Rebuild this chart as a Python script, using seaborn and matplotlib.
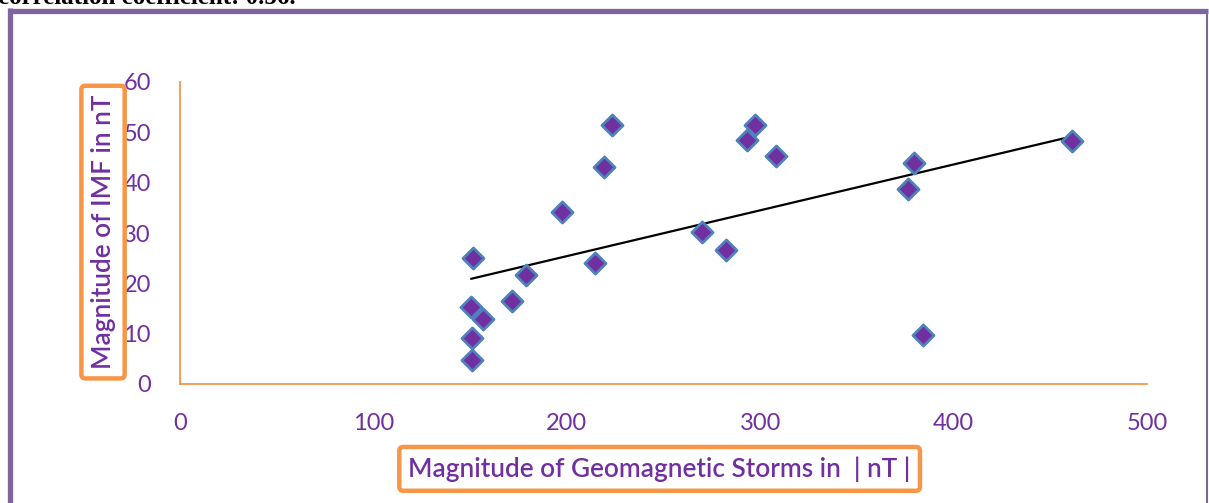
import numpy as np
import pandas as pd
import matplotlib
matplotlib.use("Agg")
import matplotlib.pyplot as plt
from matplotlib.lines import Line2D
import seaborn as sns

# values
storm_nt = [150.8, 150.8, 150.5, 156.8, 151.3, 171.5, 178.7, 197.7, 214.6, 219.3,
            223.2, 269.7, 282.3, 293.3, 297.3, 308.2, 376.6, 379.7, 384.3, 461.0]
imf_nt = [4.8, 9.2, 15.2, 12.9, 25.0, 16.5, 21.7, 34.1, 24.1, 43.2,
          51.5, 30.2, 26.6, 48.4, 51.5, 45.2, 38.8, 43.9, 9.7, 48.2]
x_ticks = [0, 100, 200, 300, 400, 500]
y_ticks = [0, 10, 20, 30, 40, 50, 60]

x_label = "Magnitude of Geomagnetic Storms in  | nT |"
y_label = "Magnitude of IMF in nT"
caption = "correlation coefficient: 0.56."

purple = "#7030A0"
orange = "#F79646"
frame = "#8064A2"

df = pd.DataFrame({"storm": storm_nt, "imf": imf_nt})

sns.set_theme(style="white")
plt.rcParams["font.family"] = ["Lato", "DejaVu Sans"]

fig = plt.figure(figsize=(12.09, 5.03), dpi=100)
ax = fig.add_axes([180 / 1209, 1 - 384 / 503, 967 / 1209, 302 / 503])

# linear trend line over the data range
sns.regplot(data=df, x="storm", y="imf", ax=ax, scatter=False, ci=None,
            truncate=True, line_kws={"color": "black", "lw": 1.6, "zorder": 2})
sns.scatterplot(data=df, x="storm", y="imf", ax=ax, marker="D", s=115,
                color=purple, edgecolor="#4F81BD", linewidth=2.0, zorder=3)

ax.set_xlim(0, 500)
ax.set_ylim(0, 60)
ax.set_xticks(x_ticks)
ax.set_yticks(y_ticks)
ax.tick_params(axis="both", length=0, labelsize=17, labelcolor=purple)
ax.tick_params(axis="y", pad=21)
ax.tick_params(axis="x", pad=21)

for side in ["top", "right"]:
    ax.spines[side].set_visible(False)
for side in ["left", "bottom"]:
    ax.spines[side].set_color(orange)
    ax.spines[side].set_linewidth(1.3)

box = dict(boxstyle="round,pad=0.35,rounding_size=0.15", fc="white", ec=orange, lw=3.2)
ax.set_xlabel(x_label, fontsize=18.8, fontweight="semibold", color=purple, bbox=box)
ax.xaxis.set_label_coords(0.496, -0.281)
ax.xaxis.label.set_va("center")
ax.set_ylabel(y_label, fontsize=18.8, fontweight="semibold", color=purple, bbox=box)
ax.yaxis.set_label_coords(-0.0796, 0.503)
ax.yaxis.label.set_va("center")

# purple frame round the chart area
fig.add_artist(Line2D([9.5 / 1209, 9.5 / 1209], [0, 1 - 8 / 503], color=frame, lw=3.8,
                      transform=fig.transFigure, solid_capstyle="butt"))
fig.add_artist(Line2D([7.5 / 1209, 1208 / 1209], [1 - 10.5 / 503, 1 - 10.5 / 503], color=frame,
                      lw=3.8, transform=fig.transFigure, solid_capstyle="butt"))
fig.add_artist(Line2D([1207.3 / 1209, 1207.3 / 1209], [0, 1 - 10.5 / 503], color=frame, lw=1.5,
                      transform=fig.transFigure, solid_capstyle="butt"))

# caption line cut off at the top edge, as in the reference
fig.text(-2 / 1209, 1 - 4 / 503, caption, fontsize=18, fontweight="bold", color="black",
         family=["Liberation Serif", "DejaVu Serif"], va="baseline", ha="left")

fig.savefig("out.png", dpi=100)
